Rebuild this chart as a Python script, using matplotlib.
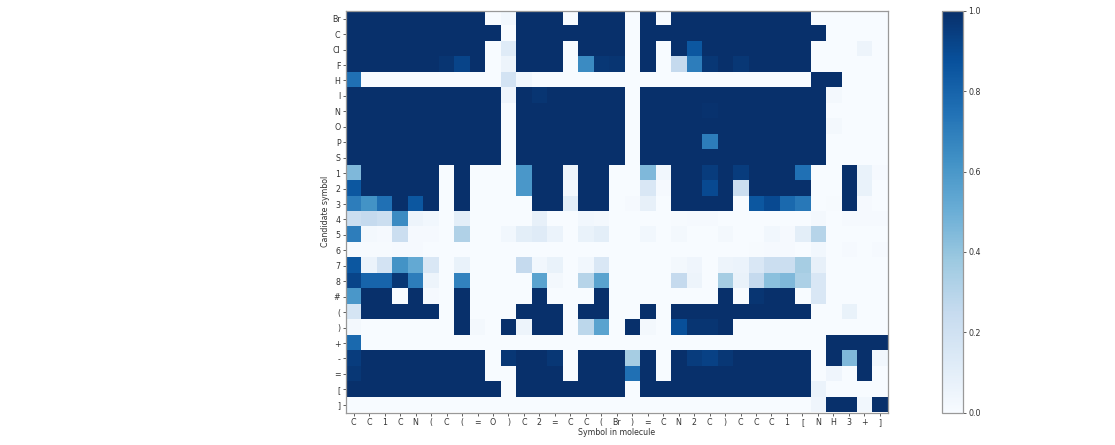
import matplotlib
matplotlib.use('Agg')
import matplotlib.pyplot as plt
import numpy as np

mol_symbols = ['C', 'C', '1', 'C', 'N', '(', 'C', '(', '=', 'O', ')', 'C', '2', '=', 'C', 'C', '(', 'Br',
               ')', '=', 'C', 'N', '2', 'C', ')', 'C', 'C', 'C', '1', '[', 'N', 'H', '3', '+', ']']
cand_symbols = ['Br', 'C', 'Cl', 'F', 'H', 'I', 'N', 'O', 'P', 'S', '1', '2', '3', '4', '5', '6', '7', '8',
                '#', '(', ')', '+', '-', '=', '[', ']']

# one row per candidate symbol
row_br = [1, 1, 1, 1, 1, 1, 1, 1, 1, 0, .03, 1, 1, 1, 0, 1, 1, 1, 0, 1, 0, 1, 1, 1, 1, 1, 1, 1, 1, 1, 0, 0, 0, 0, 0]
row_c = [1, 1, 1, 1, 1, 1, 1, 1, 1, 1, 0, 1, 1, 1, 1, 1, 1, 1, 0, 1, 1, 1, 1, 1, 1, 1, 1, 1, 1, 1, 1, 0, 0, 0, 0]
row_cl = [1, 1, 1, 1, 1, 1, 1, 1, 1, 0, .12, 1, 1, 1, 0, 1, 1, 1, 0, 1, 0, 1, .85, 1, 1, 1, 1, 1, 1, 1, 0, 0, 0, .05, 0]
row_f = [1, 1, 1, 1, 1, 1, .98, .92, 1, 0, .05, 1, 1, 1, 0, .65, .97, .98, 0, 1, 0, .25, .7, .97, 1, .97, 1, 1, 1, 1, 0, 0, 0, 0, 0]
row_h = [.75, 0, 0, 0, 0, 0, 0, 0, 0, 0, .18, .03, 0, 0, 0, 0, 0, 0, 0, 0, 0, 0, 0, 0, 0, 0, 0, 0, 0, 0, 1, 1, 0, 0, 0]
row_i = [1, 1, 1, 1, 1, 1, 1, 1, 1, 1, .04, 1, .98, 1, 1, 1, 1, 1, 0, 1, 1, 1, 1, 1, 1, 1, 1, 1, 1, 1, 1, .02, 0, 0, 0]
row_n = [1, 1, 1, 1, 1, 1, 1, 1, 1, 1, 0, 1, 1, 1, 1, 1, 1, 1, 0, 1, 1, 1, 1, .99, 1, 1, 1, 1, 1, 1, 1, 0, 0, 0, 0]
row_o = [1, 1, 1, 1, 1, 1, 1, 1, 1, 1, 0, 1, 1, 1, 1, 1, 1, 1, 0, 1, 1, 1, 1, 1, 1, 1, 1, 1, 1, 1, 1, .02, 0, 0, 0]
row_p = [1, 1, 1, 1, 1, 1, 1, 1, 1, 1, 0, 1, 1, 1, 1, 1, 1, 1, 0, 1, 1, 1, 1, .7, 1, 1, 1, 1, 1, 1, 1, 0, 0, 0, 0]
row_s = [1, 1, 1, 1, 1, 1, 1, 1, 1, 1, 0, 1, 1, 1, 1, 1, 1, 1, 0, 1, 1, 1, 1, 1, 1, 1, 1, 1, 1, 1, 1, 0, 0, 0, 0]
row_1 = [.45, 1, 1, 1, 1, 1, 0, 1, 0, 0, 0, .6, 1, 1, .05, 1, 1, 0, 0, .45, .03, 1, 1, .95, 1, .95, 1, 1, 1, .75, 0, 0, 1, .07, .01]
row_2 = [.85, 1, 1, 1, 1, 1, 0, 1, 0, 0, 0, .6, 1, 1, .02, 1, 1, 0, 0, .15, .01, 1, 1, .9, 1, .22, 1, 1, 1, 1, 0, 0, 1, .07, 0]
row_3 = [.7, .62, .75, 1, .85, 1, 0, 1, 0, 0, 0, 0, 1, 1, .1, 1, 1, 0, .01, .08, 0, 1, 1, 1, 1, 0, .85, .9, .78, .72, 0, .005, 1, .01, 0]
row_4 = [.22, .25, .22, .65, .05, .03, 0, .1, 0, 0, 0, 0, .08, 0, 0, .03, .02, 0, 0, 0, 0, .005, .01, .01, 0, 0, 0, 0, 0, 0, .02, 0, .01, .01, .01]
row_5 = [.7, .02, .01, .22, .01, .01, 0, .32, 0, 0, .03, .1, .12, .06, 0, .07, .1, 0, 0, .03, 0, .02, 0, 0, .02, 0, 0, .03, .01, .1, .3, 0, 0, 0, 0]
row_6 = [.005, .005, .005, .01, .01, 0, 0, 0, 0, 0, 0, 0, 0, 0, 0, 0, 0, 0, 0, 0, 0, 0, 0, 0, 0, 0, .005, .01, .01, 0, .03, 0, .01, 0, .01]
row_7 = [.85, .06, .18, .62, .52, .15, 0, .07, 0, 0, 0, .25, .03, .07, 0, .03, .15, 0, 0, 0, 0, .02, .04, 0, .05, .06, .15, .22, .22, .35, .08, 0, 0, 0, 0]
row_8 = [.92, .8, .8, .97, .7, .05, 0, .68, 0, 0, 0, 0, .55, .02, 0, .3, .55, 0, 0, 0, 0, .25, .05, 0, .35, .07, .25, .42, .45, .33, .15, 0, 0, 0, 0]
row_hash = [.6, 1, 1, 0, 1, .01, 0, 1, 0, 0, 0, 0, 1, 0, 0, 0, 1, 0, 0, 0, 0, 0, 0, 0, 1, 0, .98, 1, 1, 0, .15, 0, 0, 0, 0]
row_lpar = [.17, 1, 1, 1, 1, 1, 0, 1, 0, 0, 0, 1, 1, 1, 0, 1, 1, 0, 0, 1, 0, 1, 1, 1, 1, 1, 1, 1, 1, 1, 0, 0, .07, 0, 0]
row_rpar = [.02, 0, 0, 0, 0, 0, 0, 1, .02, 0, 1, .05, 1, 1, 0, .28, .55, 0, 1, .02, 0, .88, .98, .98, 1, 0, 0, 0, 0, 0, 0, 0, 0, 0, 0]
row_plus = [.78, 0, 0, 0, 0, 0, 0, 0, 0, 0, 0, 0, 0, 0, 0, 0, 0, 0, 0, 0, 0, 0, 0, 0, 0, 0, 0, 0, 0, 0, 0, 1, 1, 1, 1]
row_minus = [.95, 1, 1, 1, 1, 1, 1, 1, 1, 0, .97, 1, 1, .97, 0, 1, 1, 1, .35, 1, 0, 1, .95, .93, .97, 1, 1, 1, 1, 1, 0, 1, .45, 1, .03]
row_eq = [.97, 1, 1, 1, 1, 1, 1, 1, 1, 0, 0, 1, 1, 1, 0, 1, 1, 1, .75, 1, 0, 1, 1, 1, 1, 1, 1, 1, 1, 1, 0, .04, 0, 1, 0]
row_lbr = [1, 1, 1, 1, 1, 1, 1, 1, 1, 1, 0, 1, 1, 1, 1, 1, 1, 1, 0, 1, 1, 1, 1, 1, 1, 1, 1, 1, 1, 1, .06, 0, 0, 0, 0]
row_rbr = [0, 0, 0, 0, 0, 0, 0, 0, 0, 0, 0, 0, 0, 0, 0, 0, 0, 0, 0, 0, 0, 0, 0, 0, 0, 0, 0, 0, 0, 0, .04, 1, 1, .03, 1]

scores = np.array([row_br, row_c, row_cl, row_f, row_h, row_i, row_n, row_o, row_p, row_s,
                   row_1, row_2, row_3, row_4, row_5, row_6, row_7, row_8, row_hash,
                   row_lpar, row_rpar, row_plus, row_minus, row_eq, row_lbr, row_rbr])

W, H = 1115, 445
fs = 5.7
fig = plt.figure(figsize=(W / 100, H / 100), dpi=100)
ax = fig.add_axes([346 / W, (H - 412.5) / H, 541.5 / W, 401.5 / H])
cax = fig.add_axes([942 / W, (H - 412.5) / H, 21 / W, 401.5 / H])

im = ax.imshow(scores, cmap='Blues', vmin=0, vmax=1, aspect='auto', interpolation='nearest')
ax.set_xticks(np.arange(len(mol_symbols)))
ax.set_xticklabels(mol_symbols)
ax.set_yticks(np.arange(len(cand_symbols)))
ax.set_yticklabels(cand_symbols)
ax.tick_params(labelsize=fs, length=2, width=0.6, pad=2, color='#444444', labelcolor='#333333')
ax.set_xlabel('Symbol in molecule', fontsize=fs, color='#333333', labelpad=1)
ax.set_ylabel('Candidate symbol', fontsize=fs, color='#333333', labelpad=1.5)
for s in ax.spines.values():
    s.set_color('#999999')
    s.set_linewidth(0.9)

cb = fig.colorbar(im, cax=cax)
cb.set_ticks([0, .2, .4, .6, .8, 1])
cb.ax.tick_params(labelsize=fs, length=2, width=0.6, pad=2, color='#444444', labelcolor='#333333')
cb.outline.set_edgecolor('#999999')
cb.outline.set_linewidth(0.9)

fig.savefig('out.png', dpi=100)
